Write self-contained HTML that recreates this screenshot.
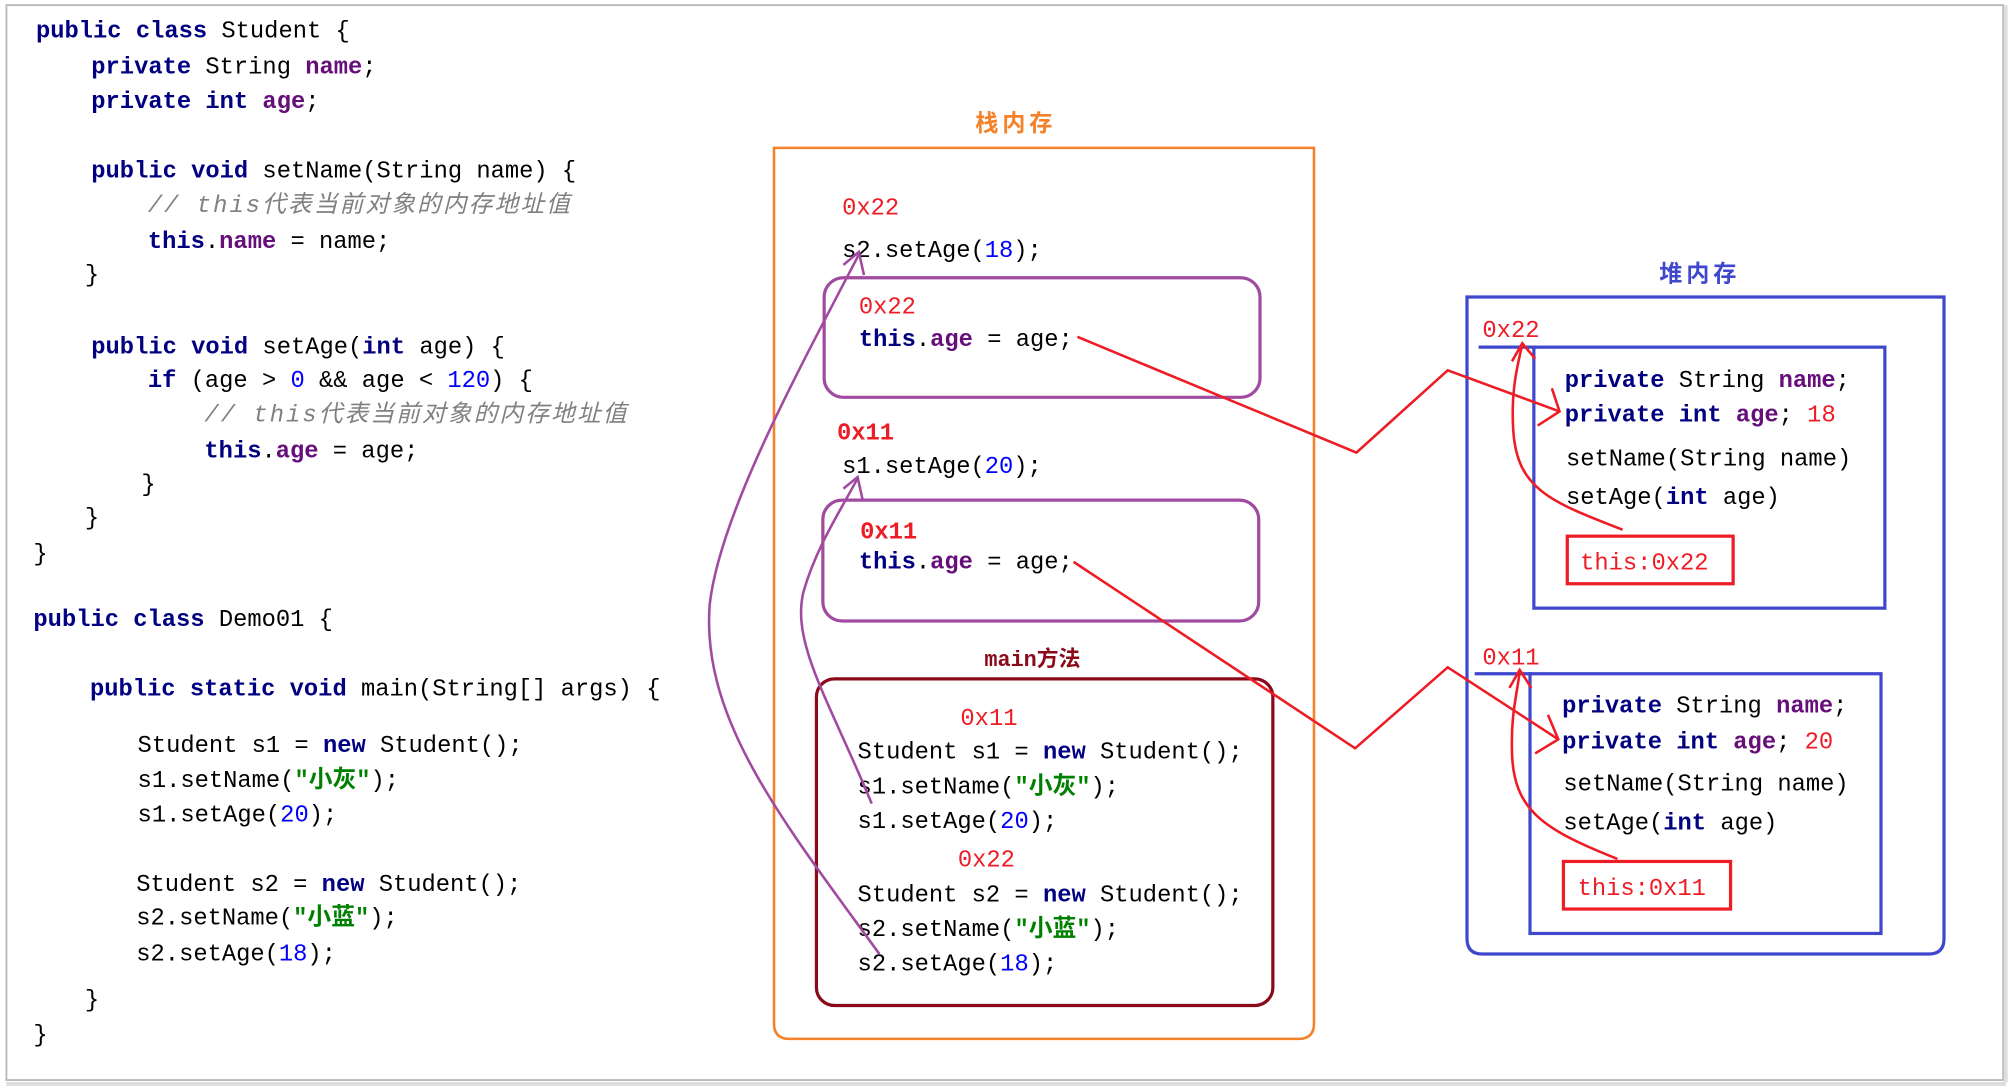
<!DOCTYPE html>
<html><head><meta charset="utf-8"><style>
html,body{margin:0;padding:0;background:#fff;}
svg{display:block;}
text{font-family:"Liberation Mono","Noto Sans CJK SC",monospace;font-size:18.5px;white-space:pre;fill:#000;}
.k{fill:#000080;font-weight:bold;}
.f{fill:#660e7a;font-weight:bold;}
.n{fill:#0000ff;}
.s{fill:#008000;font-weight:bold;}
.c{fill:#808080;font-style:italic;letter-spacing:1.6px;}
.r{fill:#ee1c24;}
</style></head><body>
<svg width="2016" height="1092" viewBox="0 0 1568 849.3" preserveAspectRatio="none" xmlns="http://www.w3.org/2000/svg">
<rect x="5" y="4" width="1553" height="836" fill="none" stroke="#bbb" stroke-width="1.5"/>
<line x1="1560" y1="4" x2="1560" y2="842" stroke="#ddd" stroke-width="3"/>
<line x1="5" y1="843" x2="1560" y2="843" stroke="#ddd" stroke-width="3"/>

<text x="28" y="29"><tspan class="k">public class</tspan> Student {</text>
<text x="71" y="57"><tspan class="k">private</tspan> String <tspan class="f">name</tspan>;</text>
<text x="71" y="84"><tspan class="k">private int</tspan> <tspan class="f">age</tspan>;</text>
<text x="71" y="138"><tspan class="k">public void</tspan> setName(String name) {</text>
<text x="115" y="165" class="c">// this代表当前对象的内存地址值</text>
<text x="115" y="193"><tspan class="k">this</tspan>.<tspan class="f">name</tspan> = name;</text>
<text x="66" y="219">}</text>
<text x="71" y="275"><tspan class="k">public void</tspan> setAge(<tspan class="k">int</tspan> age) {</text>
<text x="115" y="301"><tspan class="k">if</tspan> (age &gt; <tspan class="n">0</tspan> &amp;&amp; age &lt; <tspan class="n">120</tspan>) {</text>
<text x="159" y="328" class="c">// this代表当前对象的内存地址值</text>
<text x="159" y="356"><tspan class="k">this</tspan>.<tspan class="f">age</tspan> = age;</text>
<text x="110" y="382">}</text>
<text x="66" y="408">}</text>
<text x="26" y="436">}</text>
<text x="26" y="487"><tspan class="k">public class</tspan> Demo01 {</text>
<text x="70" y="541"><tspan class="k">public static void</tspan> main(String[] args) {</text>
<text x="107" y="585">Student s1 = <tspan class="k">new</tspan> Student();</text>
<text x="107" y="612">s1.setName(<tspan class="s">"小灰"</tspan>);</text>
<text x="107" y="639">s1.setAge(<tspan class="n">20</tspan>);</text>
<text x="106" y="693">Student s2 = <tspan class="k">new</tspan> Student();</text>
<text x="106" y="719">s2.setName(<tspan class="s">"小蓝"</tspan>);</text>
<text x="106" y="747">s2.setAge(<tspan class="n">18</tspan>);</text>
<text x="66" y="783">}</text>
<text x="26" y="810">}</text>

<text x="790" y="102" text-anchor="middle" style="fill:#f5822a;font-weight:bold;font-size:18px;letter-spacing:3px;">栈内存</text>
<path d="M602,115 L1022,115 L1022,796 Q1022,808 1010,808 L614,808 Q602,808 602,796 Z" fill="none" stroke="#f5822a" stroke-width="2"/>
<text x="655" y="167" class="r">0x22</text>
<text x="655" y="200">s2.setAge(<tspan class="n">18</tspan>);</text>
<rect x="641" y="216" width="339" height="93" rx="15" fill="none" stroke="#a04aa0" stroke-width="2.5"/>
<text x="668" y="244" class="r">0x22</text>
<text x="668" y="269"><tspan class="k">this</tspan>.<tspan class="f">age</tspan> = age;</text>
<text x="651" y="342" class="r" style="font-weight:bold">0x11</text>
<text x="655" y="368">s1.setAge(<tspan class="n">20</tspan>);</text>
<rect x="640" y="389" width="339" height="94" rx="15" fill="none" stroke="#a04aa0" stroke-width="2.5"/>
<text x="669" y="419" class="r" style="font-weight:bold">0x11</text>
<text x="668" y="442"><tspan class="k">this</tspan>.<tspan class="f">age</tspan> = age;</text>
<text x="803" y="518" text-anchor="middle" style="fill:#8b0a1a;font-weight:bold;font-size:17px;">main方法</text>
<rect x="635" y="528" width="355" height="254" rx="14" fill="none" stroke="#8b0a1a" stroke-width="2.5"/>
<text x="747" y="564" class="r">0x11</text>
<text x="667" y="590">Student s1 = <tspan class="k">new</tspan> Student();</text>
<text x="667" y="617">s1.setName(<tspan class="s">"小灰"</tspan>);</text>
<text x="667" y="644">s1.setAge(<tspan class="n">20</tspan>);</text>
<text x="745" y="674" class="r">0x22</text>
<text x="667" y="701">Student s2 = <tspan class="k">new</tspan> Student();</text>
<text x="667" y="728">s2.setName(<tspan class="s">"小蓝"</tspan>);</text>
<text x="667" y="755">s2.setAge(<tspan class="n">18</tspan>);</text>

<text x="1322" y="219" text-anchor="middle" style="fill:#3f48cc;font-weight:bold;font-size:18px;letter-spacing:3px;">堆内存</text>
<path d="M1141,231 L1512,231 L1512,730 Q1512,742 1500,742 L1153,742 Q1141,742 1141,730 Z" fill="none" stroke="#3f48cc" stroke-width="2.5"/>
<text x="1153" y="262" class="r">0x22</text>
<line x1="1150" y1="270" x2="1195" y2="270" stroke="#3f48cc" stroke-width="2.5"/>
<rect x="1193" y="270" width="273" height="203" fill="none" stroke="#3f48cc" stroke-width="2.5"/>
<text x="1217" y="301"><tspan class="k">private</tspan> String <tspan class="f">name</tspan>;</text>
<text x="1217" y="328"><tspan class="k">private int</tspan> <tspan class="f">age</tspan>; <tspan class="r">18</tspan></text>
<text x="1218" y="362">setName(String name)</text>
<text x="1218" y="392">setAge(<tspan class="k">int</tspan> age)</text>
<rect x="1219" y="417" width="129" height="37" fill="none" stroke="#ee1c24" stroke-width="2.5"/>
<text x="1229" y="443" class="r">this:0x22</text>

<text x="1153" y="517" class="r">0x11</text>
<line x1="1147" y1="524" x2="1192" y2="524" stroke="#3f48cc" stroke-width="2.5"/>
<rect x="1190" y="524" width="273" height="202" fill="none" stroke="#3f48cc" stroke-width="2.5"/>
<text x="1215" y="554"><tspan class="k">private</tspan> String <tspan class="f">name</tspan>;</text>
<text x="1215" y="582"><tspan class="k">private int</tspan> <tspan class="f">age</tspan>; <tspan class="r">20</tspan></text>
<text x="1216" y="615">setName(String name)</text>
<text x="1216" y="645">setAge(<tspan class="k">int</tspan> age)</text>
<rect x="1216" y="670" width="130" height="37" fill="none" stroke="#ee1c24" stroke-width="2.5"/>
<text x="1227" y="696" class="r">this:0x11</text>

<g fill="none" stroke="#ee1c24" stroke-width="2">
<polyline points="838,262 1055,352 1126,288 1213,320"/>
<polyline points="1196,331 1213,320 1207,302"/>
<polyline points="835,437 1054,582 1126,519 1212,575"/>
<polyline points="1194,586 1212,575 1204,556"/>
<path d="M1262,412 C1205,390 1180,380 1177,335 C1175,305 1180,285 1184,268"/>
<polyline points="1176,281 1184,267 1194,279"/>
<path d="M1258,668 C1200,645 1177,630 1176,585 C1175,555 1180,540 1182,522"/>
<polyline points="1174,535 1182,521 1191,535"/>
</g>
<g fill="none" stroke="#a04aa0" stroke-width="2">
<path d="M684,742 C610,640 545,560 552,470 C560,400 620,290 668,198"/>
<polyline points="656,206 668,196 672,214"/>
<path d="M678,625 C645,545 615,500 625,460 C635,425 655,395 667,372"/>
<polyline points="656,380 667,371 671,389"/>
</g>
</svg>
</body></html>
